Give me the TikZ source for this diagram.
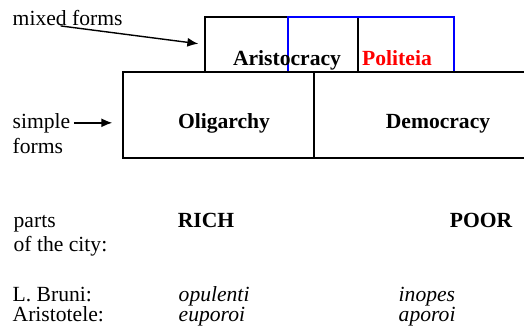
\documentclass[tikz,border=0pt]{standalone}
\usepackage{fontspec}
\setmainfont{Liberation Serif}
\usetikzlibrary{fit,arrows.meta}

\begin{document}
\begin{tikzpicture}[x=0.5pt,y=-0.5pt,>={Latex[length=5.5pt,width=4.5pt]},line width=0.7pt,
    txt/.style={inner sep=0pt,font=\fontsize{10.8}{13}\selectfont},
    bold/.style={txt,font=\fontsize{10.8}{13}\selectfont\bfseries},
    ital/.style={txt,font=\fontsize{10.8}{13}\selectfont\itshape},
    box/.style={draw,inner sep=0pt}]
      \useasboundingbox (0,0) rectangle (524,328);

      % mixed forms
      \node[box] (arist) [fit={(205,17) (358,72)}] {};
      \node[box,draw=blue] (pol) [fit={(288,17) (454,72)}] {};
      % simple forms
      \node[box] (olig) [fit={(123,72) (314,158)}] {};
      \node[box] (demo) [fit={(314,72) (530,158)}] {};

      \node[bold,anchor=base] (aristtxt) at (287,65) {Aristocracy};
      \node[bold,anchor=base,text=red] (poltxt) at (397,65) {Politeia};
      \node[bold,anchor=base] (oligtxt) at (224,128) {Oligarchy};
      \node[bold,anchor=base] (demotxt) at (438,128) {Democracy};

      \node[txt,anchor=base west] (mixed) at (12,25) {mixed forms};
      \node[txt,anchor=base west] (simple) at (12,128) {simple};
      \node[txt,anchor=base west] (forms) at (12,153) {forms};

      \draw[->,shorten >=3pt] ([xshift=-3.5pt]mixed.south) -- (arist.west);
      \draw[->,shorten <=1.5pt,shorten >=5pt] (simple.east) -- (simple.east -| olig.west);

      % parts of the city
      \node[txt,anchor=base west] (parts) at (13,227) {parts};
      \node[txt,anchor=base west] (city) at (13,251) {of the city:};
      \node[bold,anchor=base] (rich) at (206,227) {RICH};
      \node[bold,anchor=base east] (poor) at (513,227) {POOR};

      \node[txt,anchor=base west] (bruni) at (12,301) {L. Bruni:};
      \node[txt,anchor=base west] (aristotele) at (12,321) {Aristotele:};
      \node[ital,anchor=base west] (opulenti) at (178,301) {opulenti};
      \node[ital,anchor=base west] (euporoi) at (178,321) {euporoi};
      \node[ital,anchor=base west] (inopes) at (398,301) {inopes};
      \node[ital,anchor=base west] (aporoi) at (398,321) {aporoi};
    \end{tikzpicture}
\end{document}
